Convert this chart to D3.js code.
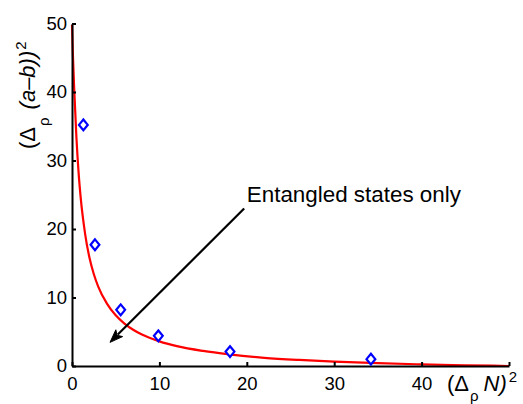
<!DOCTYPE html>
<html>
<head>
<meta charset="utf-8">
<script src="https://cdn.jsdelivr.net/npm/d3@7"></script>
<style>
  html, body { margin: 0; padding: 0; background: #ffffff; }
  svg { display: block; }
  text { font-family: "Liberation Sans", Arial, Helvetica, sans-serif; fill: #000; }
</style>
</head>
<body>
<div id="chart"></div>
<script>
// ---- data ----
const pointX = [1.3, 2.63, 5.57, 9.88, 18.08, 34.2];
const pointY = [35.2, 17.7, 8.2, 4.4, 2.1, 1.0];

const curveX = [0, 0.1, 0.25, 0.5, 0.75, 1, 1.5, 2, 2.5, 3, 4, 5, 6, 7, 8, 10, 12, 15, 18, 22, 26, 30, 35, 40, 45, 50];
const curveY = [49.8, 45.5, 40.5, 33.5, 28.3, 24.5, 19.3, 15.8, 13.4, 11.6, 9.1, 7.4, 6.2, 5.3, 4.6, 3.6, 2.9, 2.2, 1.7, 1.2, 0.88, 0.64, 0.41, 0.24, 0.11, 0.0];

const xTicks = [0, 10, 20, 30, 40, 50];
const xTickLabels = ["0", "10", "20", "30", "40", ""];
const yTicks = [0, 10, 20, 30, 40, 50];
const yTickLabels = ["0", "10", "20", "30", "40", "50"];

const annotationText = "Entangled states only";
const annotationAt = [20, 23.9];
const arrowFrom = [19.7, 23.0];
const arrowTo = [4.35, 3.45];

// ---- layout ----
const W = 523, H = 404;
const svg = d3.select("#chart").append("svg").attr("width", W).attr("height", H);

const x = d3.scaleLinear().domain([0, 50]).range([72, 509]);
const y = d3.scaleLinear().domain([0, 50]).range([366, 23.5]);

// curve
const line = d3.line()
  .x((d, i) => x(curveX[i]))
  .y((d, i) => y(curveY[i]))
  .curve(d3.curveMonotoneX);

svg.append("path")
  .datum(curveX)
  .attr("d", line)
  .attr("fill", "none")
  .attr("stroke", "#ff0000")
  .attr("stroke-width", 2.2);

// axes
const xAxis = d3.axisBottom(x)
  .tickValues(xTicks)
  .tickFormat((d, i) => xTickLabels[i])
  .tickSizeInner(-4)
  .tickSizeOuter(0)
  .tickPadding(11);

const yAxis = d3.axisLeft(y)
  .tickValues(yTicks)
  .tickFormat((d, i) => yTickLabels[i])
  .tickSizeInner(-4)
  .tickSizeOuter(0)
  .tickPadding(5);

const gx = svg.append("g").attr("transform", `translate(0,${y(0)})`).call(xAxis);
const gy = svg.append("g").attr("transform", `translate(${x(0)},0)`).call(yAxis);

[gx, gy].forEach(g => {
  g.select(".domain").attr("stroke", "#000").attr("stroke-width", 2);
  g.selectAll(".tick line").attr("stroke", "#000").attr("stroke-width", 2);
  g.selectAll(".tick text")
    .attr("font-family", "'Liberation Sans', Arial, Helvetica, sans-serif")
    .attr("font-size", 18.5)
    .attr("fill", "#000");
});

// diamonds
const dw = 4.4, dh = 5.4;
svg.append("g").selectAll("path")
  .data(pointX)
  .join("path")
  .attr("transform", (d, i) => `translate(${x(pointX[i])},${y(pointY[i])})`)
  .attr("d", `M0,${-dh}L${dw},0L0,${dh}L${-dw},0Z`)
  .attr("fill", "#ffffff")
  .attr("stroke", "#0000ff")
  .attr("stroke-width", 2.2);

// arrow
const ax0 = x(arrowFrom[0]), ay0 = y(arrowFrom[1]);
const ax1 = x(arrowTo[0]), ay1 = y(arrowTo[1]);
const ang = Math.atan2(ay1 - ay0, ax1 - ax0);
const headLen = 13, headHalf = 4.8;
const bx = ax1 - headLen * Math.cos(ang), by = ay1 - headLen * Math.sin(ang);
svg.append("line")
  .attr("x1", ax0).attr("y1", ay0)
  .attr("x2", bx + 2 * Math.cos(ang)).attr("y2", by + 2 * Math.sin(ang))
  .attr("stroke", "#000").attr("stroke-width", 2.2);
const px = -Math.sin(ang), py = Math.cos(ang);
svg.append("path")
  .attr("d", `M${ax1},${ay1}L${bx + headHalf * px},${by + headHalf * py}L${bx + 3 * Math.cos(ang)},${by + 3 * Math.sin(ang)}L${bx - headHalf * px},${by - headHalf * py}Z`)
  .attr("fill", "#000").attr("stroke", "#000").attr("stroke-width", 1);

// annotation text
svg.append("text")
  .attr("x", x(annotationAt[0]))
  .attr("y", y(annotationAt[1]))
  .attr("font-size", 22.4)
  .text(annotationText);

// y label
const yl = svg.append("text")
  .attr("transform", "translate(35,149) rotate(-90)")
  .attr("font-size", 22);
yl.append("tspan").text("(Δ");
yl.append("tspan").attr("font-size", 15).attr("dy", 14).attr("dx", 1).text("ρ");
yl.append("tspan").attr("dy", -14).attr("dx", 8).attr("font-style", "italic").text("(a–b))");
yl.append("tspan").attr("font-size", 15).attr("dy", -9).attr("dx", 1).text("2");

// x label
const xl = svg.append("text")
  .attr("x", 447).attr("y", 391)
  .attr("font-size", 22);
xl.append("tspan").text("(Δ");
xl.append("tspan").attr("font-size", 15).attr("dy", 10).attr("dx", 1).text("ρ");
xl.append("tspan").attr("dy", -10).attr("dx", 5).attr("font-style", "italic").text("N)");
xl.append("tspan").attr("font-size", 15).attr("dy", -9).attr("dx", 2).text("2");
</script>
</body>
</html>
